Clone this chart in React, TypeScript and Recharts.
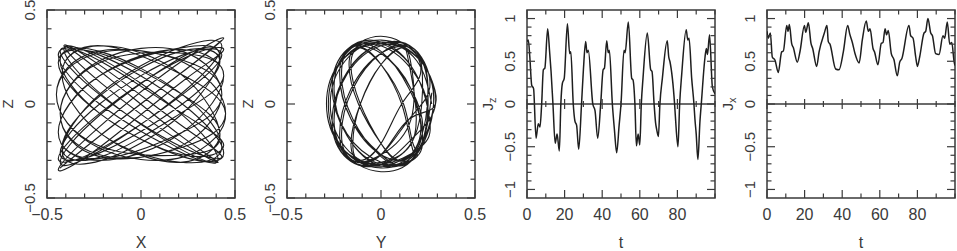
import { LineChart, Line, XAxis, YAxis, ReferenceLine, ReferenceArea } from "recharts"

// axis ticks and labels
const unitTicks = [-0.5, -0.4, -0.3, -0.2, -0.1, 0, 0.1, 0.2, 0.3, 0.4, 0.5]
const unitLabels = [-0.5, 0, 0.5]
const timeTicks = [0, 10, 20, 30, 40, 50, 60, 70, 80, 90, 100]
const timeLabels = [0, 20, 40, 60, 80]
const currentTicks = [
  -1, -0.9, -0.8, -0.7, -0.6, -0.5, -0.4, -0.3, -0.2, -0.1, 0,
  0.1, 0.2, 0.3, 0.4, 0.5, 0.6, 0.7, 0.8, 0.9, 1,
]
const currentLabels = [-1, -0.5, 0, 0.5, 1]

// X-Z orbit, one loop per line
const xzPath = [
  [0.43, 0.34], [0.22, 0.17], [-0.22, -0.17], [-0.43, -0.34], [-0.22, -0.17], [0.22, 0.17],
  [0.44, 0.35], [0.22, 0.23], [-0.22, -0.12], [-0.44, -0.35], [-0.22, -0.23], [0.22, 0.12],
  [0.44, 0.29], [0.22, 0.24], [-0.22, -0.05], [-0.44, -0.29], [-0.22, -0.24], [0.22, 0.05],
  [0.43, 0.26], [0.22, 0.26], [-0.22, 0], [-0.43, -0.26], [-0.22, -0.26], [0.22, 0],
  [0.42, 0.23], [0.21, 0.28], [-0.21, 0.05], [-0.42, -0.23], [-0.21, -0.28], [0.21, -0.05],
  [0.44, 0.15], [0.22, 0.29], [-0.22, 0.15], [-0.44, -0.15], [-0.22, -0.29], [0.22, -0.15],
  [0.43, 0.05], [0.22, 0.28], [-0.22, 0.23], [-0.43, -0.05], [-0.22, -0.28], [0.22, -0.23],
  [0.45, -0.05], [0.23, 0.22], [-0.23, 0.27], [-0.45, 0.05], [-0.23, -0.22], [0.23, -0.27],
  [0.42, -0.16], [0.21, 0.16], [-0.21, 0.31], [-0.42, 0.16], [-0.21, -0.16], [0.21, -0.31],
  [0.43, -0.23], [0.22, 0.05], [-0.22, 0.28], [-0.43, 0.23], [-0.22, -0.05], [0.22, -0.28],
  [0.44, -0.26], [0.22, 0], [-0.22, 0.26], [-0.44, 0.26], [-0.22, 0], [0.22, -0.26],
  [0.41, -0.29], [0.21, -0.05], [-0.21, 0.24], [-0.41, 0.29], [-0.21, 0.05], [0.21, -0.24],
  [0.40, -0.31], [0.20, -0.16], [-0.20, 0.16], [-0.40, 0.31], [-0.20, 0.16], [0.20, -0.16],
  [0.41, -0.31], [0.21, -0.20], [-0.21, 0.11], [-0.41, 0.31], [-0.21, 0.20], [0.21, -0.11],
  [0.43, -0.28], [0.22, -0.23], [-0.22, 0.05], [-0.43, 0.28], [-0.22, 0.23], [0.22, -0.05],
  [0.44, -0.22], [0.22, -0.27], [-0.22, -0.05], [-0.44, 0.22], [-0.22, 0.27], [0.22, 0.05],
  [0.42, -0.16], [0.21, -0.31], [-0.21, -0.16], [-0.42, 0.16], [-0.21, 0.31], [0.21, 0.16],
  [0.45, -0.05], [0.23, -0.28], [-0.23, -0.23], [-0.45, 0.05], [-0.23, 0.28], [0.23, 0.23],
  [0.43, 0.05], [0.22, -0.22], [-0.22, -0.27], [-0.43, -0.05], [-0.22, 0.22], [0.22, 0.27],
  [0.44, 0.15], [0.22, -0.15], [-0.22, -0.30], [-0.44, -0.15], [-0.22, 0.15], [0.22, 0.30],
  [0.42, 0.25], [0.21, -0.06], [-0.21, -0.30], [-0.42, -0.25], [-0.21, 0.06], [0.21, 0.30],
  [0.43, 0.31], [0.22, 0.06], [-0.22, -0.25], [-0.43, -0.31], [-0.22, -0.06], [0.22, 0.25],
  [0.40, 0.30],
]

// Y-Z orbit, one loop per line
const yzPath = [
  [0.27, 0], [0.19, 0.23], [0, 0.33], [-0.19, 0.23], [-0.27, 0], [-0.19, -0.23], [0, -0.33], [0.19, -0.23],
  [0.25, 0.09], [0.18, 0.29], [0, 0.32], [-0.18, 0.17], [-0.25, -0.09], [-0.18, -0.29], [0, -0.32], [0.18, -0.17],
  [0.22, 0.16], [0.16, 0.30], [0, 0.27], [-0.16, 0.08], [-0.22, -0.16], [-0.16, -0.30], [0, -0.27], [0.16, -0.08],
  [0.16, 0.21], [0.11, 0.30], [0, 0.21], [-0.11, 0], [-0.16, -0.21], [-0.11, -0.30], [0, -0.21], [0.11, 0],
  [0.21, 0.16], [0.15, 0.30], [0, 0.27], [-0.15, 0.08], [-0.21, -0.16], [-0.15, -0.30], [0, -0.27], [0.15, -0.08],
  [0.26, 0.09], [0.18, 0.29], [0, 0.32], [-0.18, 0.17], [-0.26, -0.09], [-0.18, -0.29], [0, -0.32], [0.18, -0.17],
  [0.29, 0], [0.21, 0.23], [0, 0.32], [-0.21, 0.23], [-0.29, 0], [-0.21, -0.23], [0, -0.32], [0.21, -0.23],
  [0.26, -0.09], [0.18, 0.17], [0, 0.33], [-0.18, 0.29], [-0.26, 0.09], [-0.18, -0.17], [0, -0.33], [0.18, -0.29],
  [0.22, -0.16], [0.16, 0.08], [0, 0.27], [-0.16, 0.30], [-0.22, 0.16], [-0.16, -0.08], [0, -0.27], [0.16, -0.30],
  [0.16, -0.21], [0.11, 0], [0, 0.21], [-0.11, 0.30], [-0.16, 0.21], [-0.11, 0], [0, -0.21], [0.11, -0.30],
  [0.21, -0.16], [0.15, 0.08], [0, 0.28], [-0.15, 0.31], [-0.21, 0.16], [-0.15, -0.08], [0, -0.28], [0.15, -0.31],
  [0.25, -0.08], [0.18, 0.16], [0, 0.31], [-0.18, 0.28], [-0.25, 0.08], [-0.18, -0.16], [0, -0.31], [0.18, -0.28],
  [0.28, 0], [0.20, 0.25], [0, 0.36], [-0.20, 0.25], [-0.28, 0], [-0.20, -0.25], [0, -0.36], [0.20, -0.25],
  [0.25, 0.08], [0.18, 0.28], [0, 0.31], [-0.18, 0.16], [-0.25, -0.08], [-0.18, -0.28], [0, -0.31], [0.18, -0.16],
  [0.15, 0.21], [0.11, 0.30], [0, 0.21], [-0.11, 0], [-0.15, -0.21], [-0.11, -0.30], [0, -0.21], [0.11, 0],
  [0.21, 0.16], [0.15, 0.30], [0, 0.27], [-0.15, 0.08], [-0.21, -0.16], [-0.15, -0.30], [0, -0.27], [0.15, -0.08],
  [0.29, 0], [0.21, 0.23], [0, 0.33], [-0.21, 0.23], [-0.29, 0], [-0.21, -0.23], [0, -0.33], [0.21, -0.23],
  [0.26, -0.09], [0.18, 0.17], [0, 0.32], [-0.18, 0.29], [-0.26, 0.09], [-0.18, -0.17], [0, -0.32], [0.18, -0.29],
  [0.17, -0.21], [0.12, 0], [0, 0.21], [-0.12, 0.30], [-0.17, 0.21], [-0.12, 0], [0, -0.21], [0.12, -0.30],
  [0.22, -0.16], [0.16, 0.08], [0, 0.27], [-0.16, 0.30], [-0.22, 0.16], [-0.16, -0.08], [0, -0.27], [0.16, -0.30],
  [0.28, 0], [0.20, 0.24], [0, 0.34], [-0.20, 0.24], [-0.28, 0], [-0.20, -0.24], [0, -0.34], [0.20, -0.24],
  [0.27, 0.06],
]

// J_z(t)
const jzTime = [
  0, 0.7, 1.5, 2.5, 3.5, 4.8, 6.0, 6.9, 7.8, 8.7, 9.5, 11.0, 12.0, 12.8, 13.8, 15.0, 16.0, 17.2,
  18.0, 18.8, 19.8, 21.5, 22.7, 23.3, 24.6, 25.5, 26.4, 27.5, 29.0, 30.0, 31.2, 31.9, 32.6, 35.0,
  36.2, 37.6, 39.2, 40.5, 41.2, 42.4, 43.2, 43.8, 45.4, 46.5, 47.7, 49.0, 50.0, 51.6, 52.2, 53.9,
  55.7, 56.4, 57.4, 58.2, 59.1, 60.0, 60.8, 61.7, 64.0, 65.8, 66.5, 67.6, 68.4, 69.0, 69.9, 70.7,
  72.0, 74.6, 75.4, 76.0, 78.5, 79.0, 80.3, 81.2, 82.3, 84.7, 85.5, 86.2, 87.6, 88.8, 89.3, 90.0,
  90.9, 92.0, 92.7, 94.7, 95.4, 96.0, 97.1, 98.6, 100,
]
const jzValues = [
  0.73, 0.75, 0.55, 0.22, 0.18, -0.4, -0.23, -0.27, 0, 0.4, 0.42, 0.88, 0.62, 0.38, 0, -0.46, -0.35, -0.55,
  0, 0.24, 0.3, 0.94, 0.59, 0.61, 0, -0.2, -0.25, -0.53, 0, 0.4, 0.73, 0.6, 0.63, 0,
  -0.08, -0.4, 0, 0.4, 0.42, 0.74, 0.6, 0.63, 0, -0.3, -0.57, -0.25, 0, 0.63, 0.6, 0.96,
  0.3, 0.28, 0, -0.49, -0.35, -0.48, 0, 0.3, 0.83, 0.4, 0.38, 0, -0.22, -0.3, -0.38, 0,
  0.3, 0.74, 0.55, 0.5, 0, -0.17, -0.5, 0, 0.35, 0.87, 0.75, 0.77, 0.3, 0, -0.17, -0.35,
  -0.65, -0.2, 0, 0.55, 0.65, 0.58, 0.81, 0.2, 0.12,
]

// J_x(t)
const jxTime = [
  0, 0.7, 1.8, 2.8, 4.3, 6.0, 7.8, 8.7, 10.5, 11.2, 11.9, 13.1, 14.0, 16.1, 17.6, 19.9, 20.6, 22.0,
  23.4, 24.3, 26.4, 27.7, 30.5, 31.9, 32.6, 33.5, 36.5, 38.3, 40.6, 42.9, 44.0, 45.4, 46.8, 49.0,
  50.7, 52.8, 53.9, 54.8, 56.4, 57.2, 59.0, 60.8, 61.7, 62.8, 63.6, 64.5, 66.1, 67.5, 69.3, 70.6,
  71.7, 75.5, 76.4, 77.7, 79.1, 80.0, 81.2, 83.5, 84.4, 85.6, 87.1, 88.0, 89.7, 91.5, 93.6, 94.5,
  95.9, 97.2, 98.3, 99.5, 100,
]
const jxValues = [
  0.85, 0.77, 0.83, 0.55, 0.51, 0.37, 0.61, 0.62, 0.92, 0.85, 0.93, 0.71, 0.66, 0.49, 0.62, 0.92, 0.84, 0.95,
  0.71, 0.65, 0.44, 0.61, 0.83, 0.92, 0.73, 0.7, 0.41, 0.4, 0.61, 0.92, 0.82, 0.72, 0.59, 0.48,
  0.75, 0.97, 0.85, 0.88, 0.65, 0.61, 0.46, 0.71, 0.72, 0.88, 0.81, 0.86, 0.59, 0.52, 0.33, 0.49,
  0.53, 0.92, 0.8, 0.77, 0.55, 0.44, 0.55, 0.83, 0.85, 1.0, 0.83, 0.8, 0.59, 0.58, 0.8, 0.77,
  0.96, 0.7, 0.72, 0.5, 0.45,
]

const PLOT_W = 188
const PLOT_H = 188
const INK = "#3a3a3a"
const LINE = "#1e1e1e"
const FONT = "'Liberation Sans', Arial, sans-serif"

const fmt = (v: number) => (v < 0 ? `\u2212${Math.abs(v)}` : `${v}`)

function XTick(props: any) {
  const { x, y, payload, labels, zeroFrac } = props
  const v = payload.value
  const major = labels.includes(v)
  const len = major ? 8 : 4.5
  const zy = zeroFrac == null ? 0 : y - PLOT_H * zeroFrac
  const zl = major ? 5 : 3
  return (
    <g>
      <line x1={x} x2={x} y1={y} y2={y - len} stroke={INK} strokeWidth={1.2} />
      <line x1={x} x2={x} y1={y - PLOT_H} y2={y - PLOT_H + len} stroke={INK} strokeWidth={1.2} />
      {zeroFrac != null && (
        <line x1={x} x2={x} y1={zy - zl} y2={zy + zl} stroke={INK} strokeWidth={1.2} />
      )}
      {major && (
        <text x={x} y={y + 22} textAnchor="middle" fontSize={16} fill={INK} fontFamily={FONT}>
          {fmt(v)}
        </text>
      )}
    </g>
  )
}

function YTick(props: any) {
  const { x, y, payload, labels } = props
  const v = payload.value
  const major = labels.includes(v)
  const len = major ? 8 : 4.5
  return (
    <g>
      <line x1={x} x2={x + len} y1={y} y2={y} stroke={INK} strokeWidth={1.2} />
      <line x1={x + PLOT_W} x2={x + PLOT_W - len} y1={y} y2={y} stroke={INK} strokeWidth={1.2} />
      {major && (
        <text
          transform={`translate(${x - 12},${y}) rotate(-90)`}
          textAnchor="middle"
          fontSize={15}
          fill={INK}
          fontFamily={FONT}
        >
          {fmt(v)}
        </text>
      )}
    </g>
  )
}

function XTitle(props: any) {
  const { viewBox, text } = props
  return (
    <text
      x={viewBox.x + viewBox.width / 2}
      y={viewBox.y + viewBox.height - 3}
      textAnchor="middle"
      fontSize={16}
      fill={INK}
      fontFamily={FONT}
    >
      {text}
    </text>
  )
}

function YTitle(props: any) {
  const { viewBox, text, sub } = props
  return (
    <text
      transform={`translate(${viewBox.x + 13},${viewBox.y + viewBox.height / 2}) rotate(-90)`}
      textAnchor="middle"
      fontSize={15}
      fill={INK}
      fontFamily={FONT}
    >
      {text}
      {sub && (
        <tspan dy={3} fontSize={11}>
          {sub}
        </tspan>
      )}
    </text>
  )
}

interface PanelProps {
  left: number
  width: number
  data: { a: number; b: number }[]
  xDomain: [number, number]
  yDomain: [number, number]
  xTicks: number[]
  xLabels: number[]
  yTicks: number[]
  yLabels: number[]
  xTitle: string
  yTitle: string
  ySub?: string
  curve: "natural" | "monotone"
  lineWidth: number
  zeroLine?: boolean
}

function Panel(p: PanelProps) {
  const zeroFrac = p.zeroLine ? (0 - p.yDomain[0]) / (p.yDomain[1] - p.yDomain[0]) : undefined
  return (
    <div style={{ position: "absolute", left: p.left, top: 0 }}>
      <LineChart
        width={p.width}
        height={251}
        data={p.data}
        margin={{ top: 10, right: p.width - 47 - PLOT_W, bottom: 0, left: 0 }}
      >
        <XAxis
          type="number"
          dataKey="a"
          domain={p.xDomain}
          allowDataOverflow
          ticks={p.xTicks}
          interval={0}
          height={53}
          axisLine={false}
          tickLine={false}
          tickSize={0}
          tickMargin={0}
          tick={(t: any) => <XTick {...t} labels={p.xLabels} zeroFrac={zeroFrac} />}
          label={<XTitle text={p.xTitle} />}
        />
        <YAxis
          type="number"
          domain={p.yDomain}
          allowDataOverflow
          ticks={p.yTicks}
          interval={0}
          width={47}
          axisLine={false}
          tickLine={false}
          tickSize={0}
          tickMargin={0}
          tick={(t: any) => <YTick {...t} labels={p.yLabels} />}
          label={<YTitle text={p.yTitle} sub={p.ySub} />}
        />
        <ReferenceArea
          x1={p.xDomain[0]}
          x2={p.xDomain[1]}
          y1={p.yDomain[0]}
          y2={p.yDomain[1]}
          fill="none"
          fillOpacity={0}
          stroke={INK}
          strokeWidth={1.5}
          ifOverflow="visible"
        />
        {p.zeroLine && <ReferenceLine y={0} stroke={INK} strokeWidth={1.5} />}
        <Line
          dataKey="b"
          type={p.curve}
          stroke={LINE}
          strokeWidth={p.lineWidth}
          dot={false}
          activeDot={false}
          isAnimationActive={false}
        />
      </LineChart>
    </div>
  )
}

const xzData = xzPath.map(([a, b]) => ({ a, b }))
const yzData = yzPath.map(([a, b]) => ({ a, b }))
const jzData = jzTime.map((a, i) => ({ a, b: jzValues[i] }))
const jxData = jxTime.map((a, i) => ({ a, b: jxValues[i] }))

export default function App() {
  return (
    <div style={{ position: "relative", width: 957, height: 251, overflow: "hidden", background: "#fff" }}>
      <style>
        {"html,body{margin:0;overflow:hidden;background:#fff}.recharts-wrapper,.recharts-surface{overflow:visible!important}"}
      </style>
      <Panel
        left={0}
        width={240}
        data={xzData}
        xDomain={[-0.5, 0.5]}
        yDomain={[-0.5, 0.5]}
        xTicks={unitTicks}
        xLabels={unitLabels}
        yTicks={unitTicks}
        yLabels={unitLabels}
        xTitle="X"
        yTitle="Z"
        curve="natural"
        lineWidth={1.1}
      />
      <Panel
        left={240}
        width={240}
        data={yzData}
        xDomain={[-0.5, 0.5]}
        yDomain={[-0.5, 0.5]}
        xTicks={unitTicks}
        xLabels={unitLabels}
        yTicks={unitTicks}
        yLabels={unitLabels}
        xTitle="Y"
        yTitle="Z"
        curve="natural"
        lineWidth={1.1}
      />
      <Panel
        left={480}
        width={240}
        data={jzData}
        xDomain={[0, 100]}
        yDomain={[-1.1, 1.1]}
        xTicks={timeTicks}
        xLabels={timeLabels}
        yTicks={currentTicks}
        yLabels={currentLabels}
        xTitle="t"
        yTitle="J"
        ySub="z"
        curve="monotone"
        lineWidth={1.5}
        zeroLine
      />
      <Panel
        left={720}
        width={237}
        data={jxData}
        xDomain={[0, 100]}
        yDomain={[-1.1, 1.1]}
        xTicks={timeTicks}
        xLabels={timeLabels}
        yTicks={currentTicks}
        yLabels={currentLabels}
        xTitle="t"
        yTitle="J"
        ySub="x"
        curve="monotone"
        lineWidth={1.5}
        zeroLine
      />
    </div>
  )
}
